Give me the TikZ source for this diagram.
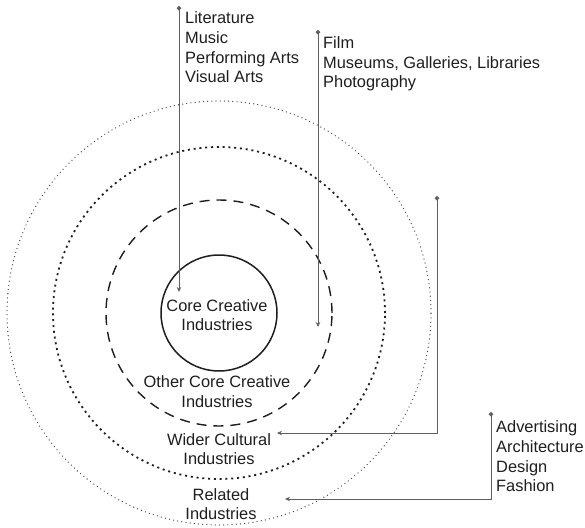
\documentclass[tikz,border=0pt]{standalone}
\usepackage{fontspec}
\setmainfont{Liberation Sans}
\usetikzlibrary{arrows.meta, positioning}
\definecolor{linegray}{RGB}{95, 95, 95}
\definecolor{ringblack}{RGB}{30, 30, 30}

\begin{document}
\begin{tikzpicture}[
    x=1pt, y=1pt,
    every node/.style={font=\fontsize{16.4}{19.7}\selectfont, text=ringblack},
    ringlabel/.style={align=center, inner sep=0pt},
    list/.style={align=left, anchor=west, inner sep=0pt},
    pointer/.style={draw=linegray, line width=0.9pt, {Circle[length=4.5pt]}-{Stealth[length=5pt, width=4.5pt]}}
]
    \useasboundingbox (-219, -214) rectangle (366, 313);

    % Rings, inside out
    \draw[ringblack, line width=1.5pt] (0, 0) circle (58pt);
    \draw[ringblack, line width=1.4pt, dash pattern=on 10pt off 7pt] (0, 0) circle (113pt);
    \draw[ringblack, line width=1.8pt, dash pattern=on 2pt off 3.8pt] (0, 0) circle (166pt);
    \draw[ringblack!85, line width=1.3pt, line cap=round, dash pattern=on 0pt off 4.2pt] (0, 0) circle (212pt);

    % Ring labels
    \node[ringlabel] (core) at (-2, -2) {Core Creative\\Industries};
    \node[ringlabel] (othercore) at (-2, -78.5) {Other Core Creative\\Industries};
    \node[ringlabel] (wider) at (0, -136) {Wider Cultural\\Industries};
    \node[ringlabel] (related) at (2, -191) {Related\\Industries};

    % Lists of sectors
    \node[list] (arts) at (-34, 265.5) {Literature\\Music\\Performing Arts\\Visual Arts};
    \node[list] (heritage) at (104, 249) {Film\\Museums, Galleries, Libraries\\Photography};
    \node[list] (design) at (277, -143.5) {Advertising\\Architecture\\Design\\Fashion};

    % Pointer ends
    \coordinate (artsdot) at (-40, 307);
    \coordinate (artsend) at (-40, 21);
    \coordinate (heritagedot) at (99, 283);
    \coordinate (heritageend) at (99, -14);
    \coordinate (widerdot) at (218, 117);
    \coordinate (widerend) at (58, -120);
    \coordinate (relateddot) at (272, -99);
    \coordinate (relatedend) at (66, -186);

    % Pointers from lists into rings
    \draw[pointer] (artsdot) -- (artsend);
    \draw[pointer] (heritagedot) -- (heritageend);
    \draw[pointer] (widerdot) |- (widerend);
    \draw[pointer] (relateddot) |- (relatedend);

\end{tikzpicture}
\end{document}
